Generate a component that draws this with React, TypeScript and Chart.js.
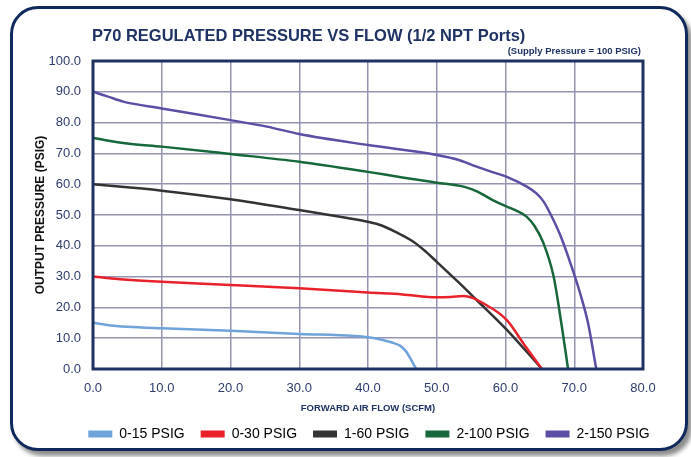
import { useEffect, useRef } from "react";
import { Chart, registerables } from "chart.js";

Chart.register(...registerables);

const CHART_TITLE = "P70 REGULATED PRESSURE VS FLOW (1/2 NPT Ports)";
const CHART_SUBTITLE = "(Supply Pressure = 100 PSIG)";
const X_AXIS_TITLE = "FORWARD AIR FLOW (SCFM)";
const Y_AXIS_TITLE = "OUTPUT PRESSURE (PSIG)";

const SERIES_NAMES = ["0-15 PSIG", "0-30 PSIG", "1-60 PSIG", "2-100 PSIG", "2-150 PSIG"];
const SERIES_COLORS = ["#6fa4da", "#e8212a", "#333333", "#16683a", "#5a4ea5"];

const FLOW_0_15 = [0, 2, 5, 10, 20, 30, 38, 40, 42, 43.5, 44.7, 45.5, 46.2, 47];
const PRESSURE_0_15 = [15, 14.3, 13.7, 13.2, 12.4, 11.4, 10.7, 10.3, 9.5, 8.6, 7.5, 5.8, 3.3, 0];

const FLOW_0_30 = [0, 5, 10, 20, 30, 40, 45, 50, 52, 53.9, 55.3, 56.3, 60.2, 62.6, 65.3];
const PRESSURE_0_30 = [30, 29, 28.3, 27.3, 26.2, 24.8, 24.2, 23.3, 23.4, 23.7, 23, 21.9, 15.9, 8.3, 0];

const FLOW_1_60 = [0, 5, 10, 20, 30, 37, 40, 42, 44, 46.6, 48.3, 50, 53, 55.8, 60.2, 65.3];
const PRESSURE_1_60 = [60, 59, 57.9, 55.1, 51.6, 49, 47.8, 46.6, 44.5, 41.3, 38.3, 34.8, 28.5, 22.4, 12.7, 0];

const FLOW_2_100 = [0, 5, 10, 20, 30, 40, 45, 50, 53.9, 56, 58, 60.2, 61.5, 63.1, 64.2, 65.5, 67, 68.2, 69.1];
const PRESSURE_2_100 = [75, 73.2, 72.2, 69.8, 67.3, 64, 62.2, 60.5, 59.2, 57.5, 55, 52.7, 51.5, 49.4, 46.5, 41, 30, 13.7, 0];

const FLOW_2_150 = [0, 2, 4.4, 10, 20, 25.3, 30, 40, 50, 53, 55.8, 58, 60.2, 63.1, 64.5, 65.5, 66.5, 67.9, 69.5, 70.8, 72, 73.2];
const PRESSURE_2_150 = [90, 88.6, 86.8, 84.6, 80.8, 78.7, 76.3, 72.7, 69.5, 68, 65.7, 64, 62.4, 59.2, 57, 54.5, 50.5, 43.8, 34, 25, 15, 0];

const X_MIN = 0;
const X_MAX = 80;
const X_STEP = 10;
const Y_MIN = 0;
const Y_MAX = 100;
const Y_STEP = 10;

const NAVY = "#1e3264";
const TICK_COLOR = "#2e3c6e";
const GRID_COLOR = "#9494b2";
const FONT = "'Liberation Sans', Arial, sans-serif";

const ALL_FLOWS = [FLOW_0_15, FLOW_0_30, FLOW_1_60, FLOW_2_100, FLOW_2_150];
const ALL_PRESSURES = [PRESSURE_0_15, PRESSURE_0_30, PRESSURE_1_60, PRESSURE_2_100, PRESSURE_2_150];

const titlesPlugin = {
  id: "titlesPlugin",
  afterDraw(chart: any) {
    const { ctx, chartArea } = chart;
    ctx.save();
    ctx.fillStyle = NAVY;
    ctx.textBaseline = "middle";
    ctx.font = `bold 16.5px ${FONT}`;
    ctx.textAlign = "left";
    ctx.fillText(CHART_TITLE, chartArea.left - 1, 36);
    ctx.font = `bold 9.5px ${FONT}`;
    ctx.textAlign = "right";
    ctx.fillText(CHART_SUBTITLE, chartArea.right - 2, 51);
    ctx.restore();
  },
};

const plotBorderPlugin = {
  id: "plotBorderPlugin",
  afterDatasetsDraw(chart: any) {
    const { ctx, chartArea } = chart;
    ctx.save();
    ctx.strokeStyle = NAVY;
    ctx.lineWidth = 3;
    ctx.strokeRect(chartArea.left, chartArea.top, chartArea.right - chartArea.left, chartArea.bottom - chartArea.top);
    ctx.restore();
  },
};

export default function App() {
  const canvasRef = useRef<HTMLCanvasElement | null>(null);

  useEffect(() => {
    if (!canvasRef.current) return;
    const datasets = SERIES_NAMES.map((name, i) => ({
      label: name,
      data: ALL_FLOWS[i].map((x, j) => ({ x, y: ALL_PRESSURES[i][j] })),
      borderColor: SERIES_COLORS[i],
      backgroundColor: SERIES_COLORS[i],
      borderWidth: 2.5,
      pointRadius: 0,
      fill: false,
      cubicInterpolationMode: "monotone" as const,
    }));

    const chart = new Chart(canvasRef.current, {
      type: "line",
      data: { datasets },
      plugins: [titlesPlugin, plotBorderPlugin],
      options: {
        animation: false,
        responsive: false,
        devicePixelRatio: 1,
        layout: { padding: { left: 47, right: 0, top: 61, bottom: 6 } },
        plugins: {
          title: { display: false },
          tooltip: { enabled: false },
          legend: {
            display: true,
            position: "bottom",
            labels: {
              boxWidth: 24,
              boxHeight: 7,
              padding: 16,
              color: "#22315c",
              font: { size: 14, family: FONT },
              generateLabels: (c: any) =>
                c.data.datasets.map((d: any, i: number) => ({
                  text: d.label,
                  fillStyle: d.borderColor,
                  strokeStyle: d.borderColor,
                  lineWidth: 0,
                  hidden: false,
                  datasetIndex: i,
                })),
            },
          },
        },
        scales: {
          x: {
            type: "linear",
            min: X_MIN,
            max: X_MAX,
            ticks: {
              stepSize: X_STEP,
              color: TICK_COLOR,
              padding: 12,
              maxRotation: 0,
              font: { size: 13, family: FONT },
              callback: (v: any) => Number(v).toFixed(1),
            },
            grid: { color: GRID_COLOR, lineWidth: 1.5, drawTicks: false },
            border: { display: false },
            title: {
              display: true,
              text: X_AXIS_TITLE,
              color: NAVY,
              font: { size: 9.5, weight: "bold", family: FONT },
              padding: { top: 0, bottom: -2.7 },
            },
            afterFit: (s: any) => {
              s.height = 42;
            },
          },
          y: {
            type: "linear",
            min: Y_MIN,
            max: Y_MAX,
            ticks: {
              stepSize: Y_STEP,
              color: TICK_COLOR,
              padding: 12,
              font: { size: 13, family: FONT },
              callback: (v: any) => Number(v).toFixed(1),
            },
            grid: { color: GRID_COLOR, lineWidth: 1.5, drawTicks: false },
            border: { display: false },
            title: {
              display: true,
              text: Y_AXIS_TITLE,
              color: "#111111",
              font: { size: 12, weight: "bold", family: FONT },
              padding: { top: -13.5, bottom: 0 },
            },
            afterFit: (s: any) => {
              s.width = 46;
            },
          },
          yRight: {
            type: "linear",
            position: "right",
            display: true,
            min: Y_MIN,
            max: Y_MAX,
            ticks: { display: false },
            grid: { display: false },
            border: { display: false },
            afterFit: (s: any) => {
              s.width = 48;
            },
          },
        },
      } as any,
    });
    return () => chart.destroy();
  }, []);

  return (
    <div style={{ position: "fixed", left: 0, top: 0, width: 691, height: 457, background: "#ffffff" }}>
      <div
        style={{
          position: "absolute",
          left: 10,
          top: 6,
          width: 678,
          height: 445,
          boxSizing: "border-box",
          border: "3px solid #0e2a5c",
          borderRadius: 28,
          background: "#ffffff",
          boxShadow: "4px 5px 4px rgba(0,0,0,0.45)",
        }}
      />
      <canvas
        ref={canvasRef}
        width={691}
        height={457}
        style={{ position: "absolute", left: 0, top: 0, width: 691, height: 457 }}
      />
    </div>
  );
}
